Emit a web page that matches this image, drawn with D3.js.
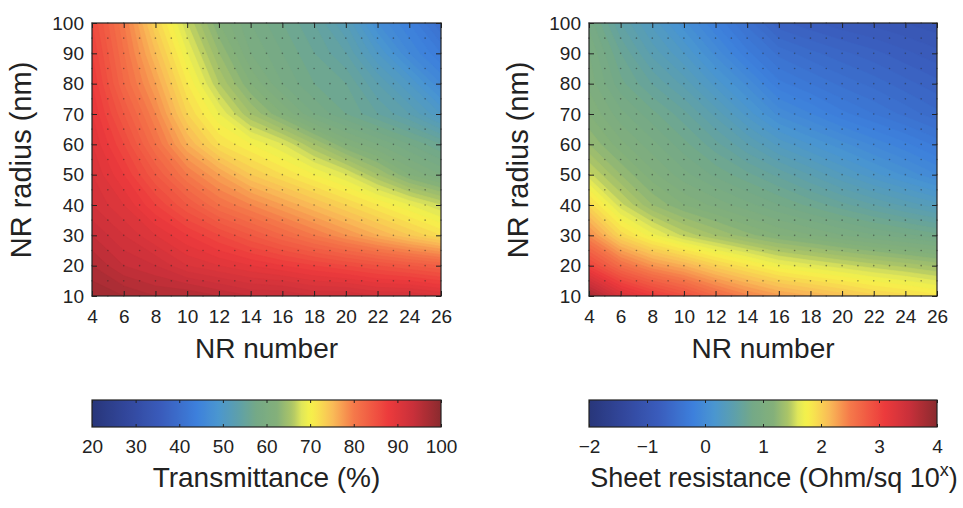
<!DOCTYPE html>
<html>
<head>
<meta charset="utf-8">
<script src="https://cdn.jsdelivr.net/npm/d3@7"></script>
<style>
  html, body { margin: 0; padding: 0; background: #fff; }
  svg text { font-family: "Liberation Sans", Arial, Helvetica, sans-serif; fill: #222; }
</style>
</head>
<body>
<svg id="chart" width="963" height="508"></svg>
<script>
// ---------------- DATA ----------------
const nrNumber = [4, 6, 8, 10, 12, 14, 16, 18, 20, 22, 24, 26];
const nrRadius = [10, 20, 30, 40, 50, 60, 70, 80, 90, 100];

// Transmittance (%) — rows follow nrRadius (10 → 100), columns follow nrNumber
const transmittance = [
  [98, 97, 96, 96, 95, 94, 94, 93, 93, 92, 92, 91],
  [96, 94, 93, 91, 90, 89, 88, 87, 86, 85, 84, 83],
  [94, 92, 90, 88, 86, 84, 82, 80, 78, 76, 74, 72],
  [92, 90, 87, 84, 81, 79, 77, 75, 73, 71, 69, 67],
  [91, 88, 84, 80, 77, 74, 72, 70, 68, 65, 62, 60],
  [90, 86, 81, 76, 72, 70, 68, 65, 62, 60, 58, 56],
  [89, 84, 79, 73, 69, 65, 62, 59, 57, 55, 53, 50],
  [88, 82, 77, 71, 66, 62, 59, 57, 56, 53, 50, 46],
  [87, 81, 75, 69, 64, 60, 58, 56, 54, 50, 46, 43],
  [86, 80, 73, 67, 62, 59, 57, 55, 52, 47, 44, 40]
];

// Sheet resistance (log10 Ohm/sq) — rows follow nrRadius (10 → 100)
const sheetResistance = [
  [3.8, 3.35, 3.1, 2.9, 2.65, 2.45, 2.3, 2.2, 2.1, 2.0, 1.93, 1.85],
  [3.0, 2.6, 2.35, 2.2, 2.0, 1.85, 1.7, 1.62, 1.55, 1.48, 1.42, 1.35],
  [2.4, 1.95, 1.7, 1.5, 1.37, 1.25, 1.15, 1.08, 1.0, 0.93, 0.87, 0.8],
  [1.95, 1.55, 1.3, 1.15, 1.05, 0.95, 0.85, 0.75, 0.65, 0.55, 0.45, 0.35],
  [1.55, 1.3, 1.1, 0.95, 0.83, 0.72, 0.6, 0.47, 0.33, 0.2, 0.08, -0.05],
  [1.3, 1.1, 0.95, 0.8, 0.65, 0.48, 0.3, 0.17, 0.05, -0.07, -0.18, -0.3],
  [1.15, 0.95, 0.8, 0.65, 0.45, 0.22, 0.0, -0.12, -0.25, -0.35, -0.45, -0.55],
  [1.05, 0.8, 0.62, 0.45, 0.22, 0.0, -0.25, -0.35, -0.45, -0.53, -0.62, -0.7],
  [1.0, 0.7, 0.45, 0.25, 0.0, -0.25, -0.45, -0.55, -0.63, -0.7, -0.78, -0.85],
  [0.9, 0.55, 0.3, 0.05, -0.2, -0.45, -0.7, -0.78, -0.85, -0.9, -0.95, -1.0]
];

// simulation sample points (dot markers)
const sampleNumber = [4,5,6,7,8,9,10,11,12,13,14,15,16,17,18,19,20,21,22,23,24,25,26];
const sampleRadius = [10,15,20,25,30,35,40,45,50,55,60,65,70,75,80,85,90,95,100];

const xTicks = [4, 6, 8, 10, 12, 14, 16, 18, 20, 22, 24, 26];
const yTicks = [10, 20, 30, 40, 50, 60, 70, 80, 90, 100];
const tTicks = [20, 30, 40, 50, 60, 70, 80, 90, 100];
const rTicks = [-2, -1, 0, 1, 2, 3, 4];

// colormap stops (position, colour)
const cmapPos = [0.00, 0.10, 0.20, 0.30, 0.36, 0.42, 0.47, 0.53, 0.575, 0.60, 0.625, 0.65, 0.69, 0.75, 0.85, 0.92, 1.00];
const cmapCol = ["#28367a", "#32479c", "#3a5cbc", "#3d80dc", "#4a96d0", "#5ea0aa", "#74a987", "#84b07a",
                 "#aec666", "#dfe65a", "#f6f24a", "#f8df50", "#f9bb57", "#f5794a", "#ec3a3c", "#c9303a", "#8a2a2e"];

// ---------------- DRAW ----------------
const svg = d3.select("#chart");
const defs = svg.append("defs");
const cmap = d3.scaleLinear().domain(cmapPos).range(cmapCol).interpolate(d3.interpolateRgb).clamp(true);

const panels = [
  { id: "t", values: transmittance, left: 92, right: 441, top: 23, bottom: 296,
    vmin: 20, vmax: 100, step: 1, ticks: tTicks, tickFmt: d => d,
    ytitleX: 22, title: "Transmittance (%)" },
  { id: "r", values: sheetResistance, left: 589, right: 937, top: 23, bottom: 296,
    vmin: -2, vmax: 4, step: 0.075, ticks: rTicks, tickFmt: d => (d < 0 ? "\u2212" + Math.abs(d) : d),
    ytitleX: 519, title: null }
];

panels.forEach(p => {
  const x = d3.scaleLinear().domain([4, 26]).range([p.left, p.right]);
  const y = d3.scaleLinear().domain([10, 100]).range([p.bottom, p.top]);
  const color = v => cmap((v - p.vmin) / (p.vmax - p.vmin));

  const nx = nrNumber.length, ny = nrRadius.length;
  const flat = [];
  for (let j = 0; j < ny; j++) for (let i = 0; i < nx; i++) flat.push(p.values[j][i]);

  const thresholds = d3.range(p.vmin, p.vmax + p.step / 2, p.step);
  const contours = d3.contours().size([nx, ny]).thresholds(thresholds)(flat);

  const dx = nrNumber[1] - nrNumber[0], dy = nrRadius[1] - nrRadius[0];
  const proj = d3.geoTransform({
    point: function (gx, gy) {
      this.stream.point(x(nrNumber[0] + (gx - 0.5) * dx), y(nrRadius[0] + (gy - 0.5) * dy));
    }
  });
  const path = d3.geoPath(proj);

  defs.append("clipPath").attr("id", "clip-" + p.id)
    .append("rect").attr("x", p.left).attr("y", p.top)
    .attr("width", p.right - p.left).attr("height", p.bottom - p.top);

  const g = svg.append("g");
  g.append("g").attr("clip-path", `url(#clip-${p.id})`)
    .selectAll("path").data(contours).join("path")
    .attr("d", path)
    .attr("fill", d => color(d.value + p.step / 2))
    .attr("stroke", d => color(d.value + p.step / 2))
    .attr("stroke-width", 0.6);

  // sample dots
  const pts = [];
  sampleRadius.forEach(r => sampleNumber.forEach(n => pts.push([n, r])));
  g.append("g").selectAll("circle").data(pts).join("circle")
    .attr("cx", d => x(d[0])).attr("cy", d => y(d[1])).attr("r", 0.8)
    .attr("fill", "#2a2a2a").attr("opacity", 0.5);

  // axes (ticks inward on all sides)
  const fs = "19px";
  g.append("g").attr("transform", `translate(0,${p.bottom})`)
    .call(d3.axisBottom(x).tickValues(xTicks).tickSize(-5).tickSizeOuter(0).tickPadding(14));
  g.append("g").attr("transform", `translate(${p.left},0)`)
    .call(d3.axisLeft(y).tickValues(yTicks).tickSize(-5).tickSizeOuter(0).tickPadding(8));
  g.append("g").attr("transform", `translate(0,${p.top})`)
    .call(d3.axisTop(x).tickValues(xTicks).tickSize(-5).tickSizeOuter(0).tickFormat(""));
  g.append("g").attr("transform", `translate(${p.right},0)`)
    .call(d3.axisRight(y).tickValues(yTicks).tickSize(-5).tickSizeOuter(0).tickFormat(""));

  g.append("rect").attr("x", p.left).attr("y", p.top)
    .attr("width", p.right - p.left).attr("height", p.bottom - p.top)
    .attr("fill", "none").attr("stroke", "#222").attr("stroke-width", 1.2);

  // axis titles
  g.append("text").attr("x", (p.left + p.right) / 2).attr("y", 358)
    .attr("text-anchor", "middle").style("font-size", "28px").text("NR number");
  g.append("text").attr("transform", `translate(${p.ytitleX + 9},160) rotate(-90)`)
    .attr("text-anchor", "middle").style("font-size", "29px").text("NR radius (nm)");

  // colorbar
  const cbTop = 400, cbBot = 427;
  const cx = d3.scaleLinear().domain([p.vmin, p.vmax]).range([p.left, p.right]);
  const grad = defs.append("linearGradient").attr("id", "grad-" + p.id)
    .attr("x1", "0%").attr("x2", "100%").attr("y1", "0%").attr("y2", "0%");
  d3.range(0, 1.0001, 0.01).forEach(t => {
    grad.append("stop").attr("offset", (t * 100) + "%").attr("stop-color", cmap(t));
  });
  g.append("rect").attr("x", p.left).attr("y", cbTop)
    .attr("width", p.right - p.left).attr("height", cbBot - cbTop)
    .attr("fill", `url(#grad-${p.id})`).attr("stroke", "#222").attr("stroke-width", 1.2);
  g.append("g").attr("transform", `translate(0,${cbBot})`)
    .call(d3.axisBottom(cx).tickValues(p.ticks).tickSize(-3).tickSizeOuter(0).tickPadding(13).tickFormat(p.tickFmt));
  g.append("g").attr("transform", `translate(0,${cbTop})`)
    .call(d3.axisTop(cx).tickValues(p.ticks).tickSize(-3).tickSizeOuter(0).tickFormat(""));

  g.selectAll(".tick text").style("font-size", fs).attr("fill", "#222");
  g.selectAll(".tick line").attr("stroke", "#222");
  g.selectAll(".domain").attr("stroke", "none");

  if (p.title) {
    g.append("text").attr("x", (p.left + p.right) / 2).attr("y", 487)
      .attr("text-anchor", "middle").style("font-size", "28px").text(p.title);
  } else {
    const t = g.append("text").attr("x", 774).attr("y", 487)
      .attr("text-anchor", "middle").style("font-size", "27px");
    t.append("tspan").text("Sheet resistance (Ohm/sq 10");
    t.append("tspan").attr("dy", -11).style("font-size", "18px").text("x");
    t.append("tspan").attr("dy", 11).text(")");
  }
});
</script>
</body>
</html>
